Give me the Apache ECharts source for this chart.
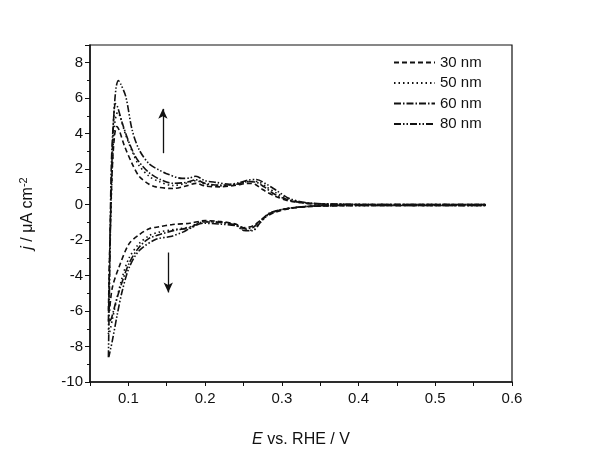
<!DOCTYPE html>
<html>
<head>
<meta charset="utf-8">
<script src="https://cdn.jsdelivr.net/npm/echarts@6/dist/echarts.min.js"></script>
<style>
  html, body { margin: 0; padding: 0; background: #fff; }
  #cv { width: 606px; height: 456px; }
</style>
</head>
<body>
<div id="cv"></div>
<script>
// [E (V vs RHE), j (uA cm-2)], anodic sweep then cathodic sweep back
var nm30 = [
  [0.074,-6.0],[0.076,-2.0],[0.079,2.0],[0.082,3.9],[0.085,4.4],[0.088,4.2],[0.095,3.3],[0.105,2.3],
  [0.114,1.6],[0.127,1.15],[0.136,1.0],[0.158,0.91],[0.175,1.05],[0.188,1.2],[0.2,1.05],[0.219,1.0],
  [0.241,1.1],[0.255,1.2],[0.265,1.15],[0.275,0.85],[0.29,0.5],[0.31,0.2],[0.34,0.05],[0.4,0.0],
  [0.5,0.0],[0.565,0.0],
  [0.565,-0.05],[0.4,-0.05],[0.34,-0.1],[0.31,-0.22],[0.29,-0.45],[0.275,-0.8],[0.262,-1.2],[0.25,-1.3],
  [0.24,-1.1],[0.22,-0.95],[0.2,-0.9],[0.18,-1.05],[0.158,-1.12],[0.14,-1.25],[0.127,-1.36],[0.114,-1.7],
  [0.101,-2.2],[0.088,-3.5],[0.079,-4.7],[0.0755,-6.0]
];
var nm50 = [
  [0.074,-7.3],[0.076,-2.5],[0.079,2.0],[0.082,4.5],[0.086,5.2],[0.089,5.0],[0.096,4.0],[0.105,3.0],
  [0.114,2.2],[0.127,1.6],[0.14,1.3],[0.158,1.08],[0.175,1.2],[0.188,1.35],[0.2,1.15],[0.219,1.05],
  [0.241,1.15],[0.258,1.3],[0.268,1.3],[0.28,1.0],[0.293,0.65],[0.31,0.28],[0.336,0.08],[0.39,0.01],
  [0.5,0.0],[0.565,0.0],
  [0.565,-0.05],[0.4,-0.05],[0.35,-0.07],[0.31,-0.2],[0.285,-0.5],[0.272,-1.0],[0.262,-1.45],[0.25,-1.4],
  [0.24,-1.15],[0.22,-1.0],[0.197,-0.95],[0.18,-1.25],[0.16,-1.4],[0.14,-1.55],[0.127,-1.75],[0.114,-2.2],
  [0.101,-3.0],[0.092,-4.1],[0.085,-5.3],[0.079,-6.5],[0.0752,-7.3]
];
var nm60 = [
  [0.074,-6.6],[0.076,-2.0],[0.078,2.5],[0.081,5.0],[0.083,5.7],[0.086,5.5],[0.092,4.6],[0.1,3.6],
  [0.108,2.8],[0.114,2.4],[0.127,1.8],[0.14,1.45],[0.158,1.2],[0.175,1.25],[0.188,1.4],[0.2,1.2],
  [0.219,1.1],[0.241,1.15],[0.255,1.3],[0.265,1.28],[0.277,1.0],[0.29,0.6],[0.31,0.25],[0.336,0.07],
  [0.39,0.01],[0.5,0.0],[0.565,0.0],
  [0.565,-0.05],[0.4,-0.05],[0.35,-0.06],[0.31,-0.2],[0.285,-0.45],[0.272,-0.9],[0.262,-1.3],[0.252,-1.35],
  [0.24,-1.15],[0.22,-1.0],[0.197,-0.98],[0.18,-1.3],[0.16,-1.45],[0.14,-1.7],[0.127,-1.9],[0.114,-2.4],
  [0.101,-3.3],[0.09,-4.6],[0.083,-5.6],[0.078,-6.4],[0.0752,-6.6]
];
var nm80 = [
  [0.074,-8.6],[0.076,-3.0],[0.078,1.5],[0.081,5.0],[0.084,6.6],[0.087,7.0],[0.09,6.8],[0.0966,6.1],
  [0.105,4.2],[0.114,3.1],[0.127,2.3],[0.14,1.95],[0.149,1.76],[0.17,1.48],[0.18,1.5],[0.188,1.6],
  [0.2,1.35],[0.215,1.25],[0.232,1.15],[0.245,1.25],[0.256,1.38],[0.267,1.42],[0.28,1.15],[0.293,0.8],
  [0.31,0.34],[0.336,0.09],[0.39,0.02],[0.45,0.0],[0.5,0.0],[0.565,0.0],
  [0.565,-0.05],[0.5,-0.05],[0.4,-0.05],[0.35,-0.07],[0.31,-0.2],[0.284,-0.5],[0.272,-1.0],[0.262,-1.47],
  [0.25,-1.45],[0.241,-1.2],[0.22,-1.1],[0.197,-1.05],[0.18,-1.35],[0.171,-1.55],[0.155,-1.8],[0.136,-1.95],
  [0.114,-2.6],[0.101,-3.55],[0.092,-4.87],[0.0855,-6.2],[0.079,-7.7],[0.0745,-8.6]
];
var names = ['30 nm', '50 nm', '60 nm', '80 nm'];
var dashes = [[5, 3], [1.5, 3], [7, 2, 1.5, 2], [7, 2, 1.5, 2, 1.5, 2]];
var curves = [nm30, nm50, nm60, nm80];
// arrow annotations [E, j] start -> end
var arrowUp = [[0.145, 2.9], [0.145, 5.4]];
var arrowDown = [[0.152, -2.7], [0.152, -4.95]];

var chart = echarts.init(document.getElementById('cv'));
var font = 'Liberation Sans, Arial, sans-serif';

var series = curves.map(function (d, i) {
  return {
    name: names[i],
    type: 'line',
    data: d,
    symbol: 'none',
    smooth: 0.3,
    lineStyle: { color: '#111', width: 1.6, type: dashes[i] },
    itemStyle: { color: '#111' },
    animation: false
  };
});
series[0].markLine = {
  silent: true,
  symbol: ['none', 'arrow'],
  symbolSize: [7, 10],
  label: { show: false },
  lineStyle: { color: '#111', width: 1.3, type: 'solid' },
  data: [
    [{ coord: arrowUp[0] }, { coord: arrowUp[1] }],
    [{ coord: arrowDown[0] }, { coord: arrowDown[1] }]
  ]
};

var option = {
  backgroundColor: '#fff',
  animation: false,
  grid: {
    left: 90, right: 94, top: 45, bottom: 74,
    show: true, borderColor: '#111', borderWidth: 1.2
  },
  legend: {
    orient: 'vertical',
    left: 388, top: 50,
    itemWidth: 41, itemHeight: 14, itemGap: 5.5,
    data: names,
    itemStyle: { color: 'rgba(0,0,0,0)', borderWidth: 0, opacity: 0 },
    textStyle: { fontFamily: font, fontSize: 15, color: '#111' }
  },
  xAxis: {
    type: 'value',
    min: 0.05, max: 0.6, interval: 0.05,
    name: '{i|E} vs. RHE / V',
    nameLocation: 'middle',
    nameGap: 50,
    nameTextStyle: {
      fontFamily: font, fontSize: 16, color: '#111',
      rich: {
        i: { fontStyle: 'italic', fontFamily: font, fontSize: 16, color: '#111' }
      }
    },
    axisLine: { onZero: false, lineStyle: { color: '#111', width: 1.5 } },
    axisTick: { inside: false, length: 4, lineStyle: { color: '#111' } },
    axisLabel: {
      fontFamily: font, fontSize: 15, color: '#111', margin: 9,
      formatter: function (v) {
        return Math.abs(v * 10 - Math.round(v * 10)) < 1e-6 ? v.toFixed(1) : '';
      }
    },
    splitLine: { show: false }
  },
  yAxis: {
    type: 'value',
    min: -10, max: 9, interval: 2,
    name: '{i|j} / μA cm{s|-2}',
    nameLocation: 'middle',
    nameGap: 52,
    nameTextStyle: {
      fontFamily: font, fontSize: 16, color: '#111',
      rich: {
        i: { fontStyle: 'italic', fontFamily: font, fontSize: 16, color: '#111' },
        s: { fontFamily: font, fontSize: 11, color: '#111', padding: [0, 0, 9, 0] }
      }
    },
    axisLine: { show: true, onZero: false, lineStyle: { color: '#111', width: 1.5 } },
    axisTick: { inside: false, length: 5, lineStyle: { color: '#111' } },
    minorTick: { show: true, splitNumber: 2, length: 3, lineStyle: { color: '#111' } },
    axisLabel: {
      fontFamily: font, fontSize: 15, color: '#111', margin: 7,
      formatter: function (v) { return v === 9 ? '' : String(v); }
    },
    splitLine: { show: false }
  },
  series: series
};
chart.setOption(option);
</script>
</body>
</html>
